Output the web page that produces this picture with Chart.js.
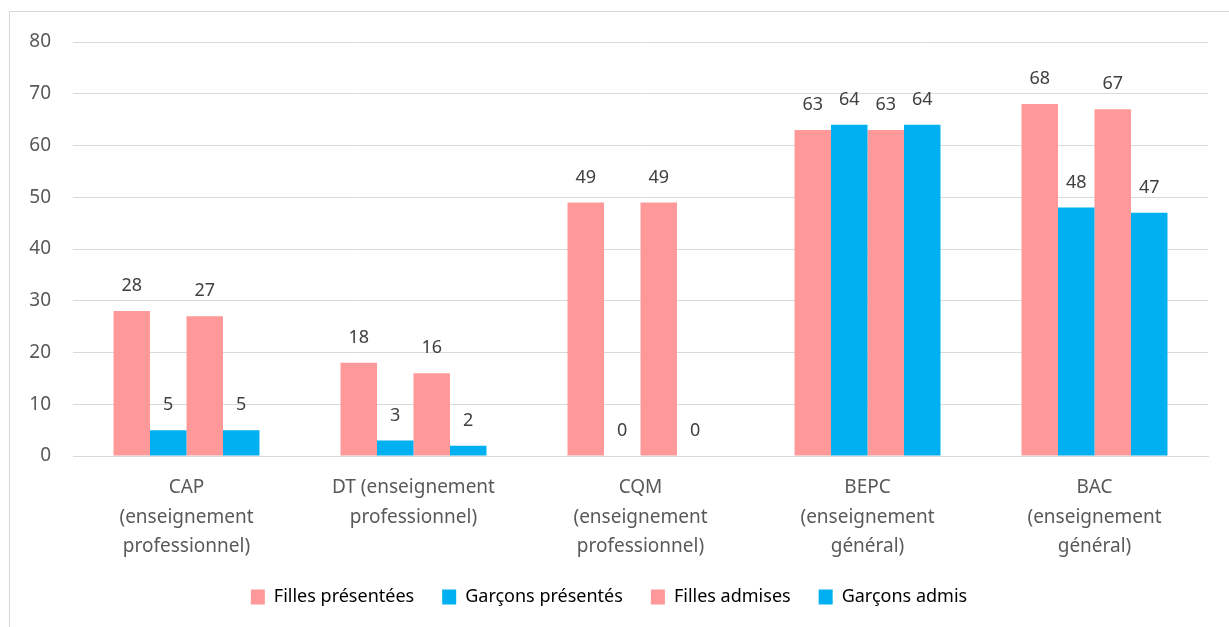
<!DOCTYPE html>
<html>
<head>
<meta charset="utf-8">
<script src="https://cdn.jsdelivr.net/npm/chart.js@4/dist/chart.umd.min.js"></script>
<style>
  html, body { margin: 0; padding: 0; background: #fff; }
  #cadre {
    position: absolute; left: 9px; top: 11px; right: -2px; bottom: -2px;
    border-left: 1px solid #d9d9d9; border-top: 1px solid #d9d9d9;
  }
  #zone { position: absolute; left: 0; top: 0; width: 1229px; height: 627px; }
</style>
</head>
<body>
<div id="cadre"></div>
<div id="zone"><canvas id="graficoExamens" width="1229" height="627"></canvas></div>
<script>
const categorias = [
  ["CAP", "(enseignement", "professionnel)"],
  ["DT (enseignement", "professionnel)"],
  ["CQM", "(enseignement", "professionnel)"],
  ["BEPC", "(enseignement", "général)"],
  ["BAC", "(enseignement", "général)"]
];
const fillesPresentees = [28, 18, 49, 63, 68];
const garconsPresentes = [5, 3, 0, 64, 48];
const fillesAdmises = [27, 16, 49, 63, 67];
const garconsAdmis = [5, 2, 0, 64, 47];
const ticksY = [0, 10, 20, 30, 40, 50, 60, 70, 80];

const ROSE = "#ff9999";
const BLEU = "#00b0f0";
const FONTE = "'Noto Sans', 'DejaVu Sans', sans-serif";

// etiquetas de valor acima de cada barra
const rotulosValores = {
  id: "rotulosValores",
  afterDatasetsDraw(chart) {
    const ctx = chart.ctx;
    ctx.save();
    ctx.font = "18px " + FONTE;
    ctx.fillStyle = "#404040";
    ctx.textAlign = "center";
    ctx.textBaseline = "middle";
    chart.data.datasets.forEach((ds, i) => {
      chart.getDatasetMeta(i).data.forEach((barra, j) => {
        ctx.fillText(String(ds.data[j]), barra.x, barra.y - 25);
      });
    });
    ctx.restore();
  }
};

const ctx = document.getElementById("graficoExamens").getContext("2d");

new Chart(ctx, {
  type: "bar",
  data: {
    labels: categorias,
    datasets: [
      { label: "Filles présentées", data: fillesPresentees, backgroundColor: ROSE },
      { label: "Garçons présentés", data: garconsPresentes, backgroundColor: BLEU },
      { label: "Filles admises", data: fillesAdmises, backgroundColor: ROSE },
      { label: "Garçons admis", data: garconsAdmis, backgroundColor: BLEU }
    ]
  },
  options: {
    responsive: false,
    animation: false,
    layout: { padding: { left: 10, right: 21, top: 42, bottom: 11 } },
    datasets: {
      bar: { categoryPercentage: 0.643, barPercentage: 1.0 }
    },
    scales: {
      x: {
        grid: { display: false, drawTicks: false },
        border: { color: "#d9d9d9", width: 1 },
        ticks: {
          color: "#595959",
          font: { family: FONTE, size: 19, lineHeight: 1.55 },
          padding: 17,
          maxRotation: 0,
          autoSkip: false
        },
        afterFit(scale) { scale.height = 104; }
      },
      y: {
        min: 0,
        max: 80,
        afterBuildTicks(scale) { scale.ticks = ticksY.map(v => ({ value: v })); },
        grid: { color: "#d9d9d9", lineWidth: 1, drawTicks: false },
        border: { display: false },
        ticks: {
          color: "#595959",
          font: { family: FONTE, size: 19 },
          padding: 22
        },
        afterFit(scale) { scale.width = 63; }
      }
    },
    plugins: {
      legend: {
        position: "bottom",
        labels: {
          color: "#000000",
          font: { family: FONTE, size: 18 },
          boxWidth: 14,
          boxHeight: 15,
          padding: 28
        }
      },
      tooltip: { enabled: false }
    }
  },
  plugins: [rotulosValores]
});
</script>
</body>
</html>
